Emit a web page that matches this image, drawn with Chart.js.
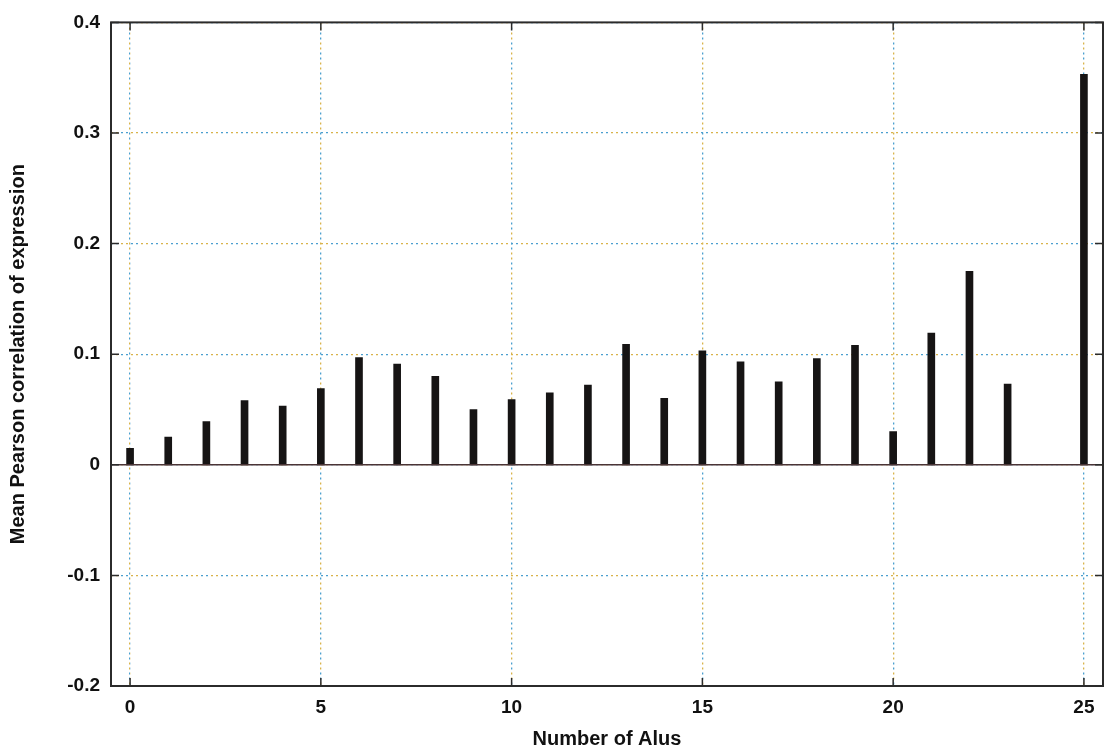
<!DOCTYPE html>
<html lang="en">
<head>
    <meta charset="UTF-8">
    <title>Mean Pearson correlation by number of Alus</title>
    <script src="https://cdn.jsdelivr.net/npm/chart.js"></script>
    <style>
        html, body { margin: 0; padding: 0; background: #fff; }
        #wrap { width: 1109px; height: 753px; position: relative; }
    </style>
</head>
<body>
    <div id="wrap"><canvas id="aluChart"></canvas></div>

    <script>
        // values
        const alus = [0, 1, 2, 3, 4, 5, 6, 7, 8, 9, 10, 11, 12, 13, 14, 15, 16, 17, 18, 19, 20, 21, 22, 23, 25];
        const meanCorrelation = [0.015, 0.025, 0.039, 0.058, 0.053, 0.069, 0.097, 0.091, 0.080, 0.050,
            0.059, 0.065, 0.072, 0.109, 0.060, 0.103, 0.093, 0.075, 0.096, 0.108,
            0.030, 0.119, 0.175, 0.073, 0.353];
        const xTitle = 'Number of Alus';
        const yTitle = 'Mean Pearson correlation of expression';

        const fontFamily = '"Liberation Sans", Arial, sans-serif';

        // dotted grid in alternating blue / gold, like the scanned figure
        function gridPattern() {
            const c = document.createElement('canvas');
            c.width = 20; c.height = 20;
            const g = c.getContext('2d');
            g.fillStyle = '#4b9fcf'; g.fillRect(0, 0, 20, 20);
            g.fillStyle = '#d9b34a'; g.fillRect(0, 0, 10, 10); g.fillRect(10, 10, 10, 10);
            return g.createPattern(c, 'repeat');
        }
        const gridColor = gridPattern();

        const frame = {
            id: 'frame',
            afterDatasetsDraw(chart) {
                const { ctx, chartArea: a, scales } = chart;
                ctx.save();
                // zero line
                const y0 = scales.y.getPixelForValue(0);
                ctx.strokeStyle = '#4a3436';
                ctx.lineWidth = 1.5;
                ctx.beginPath();
                ctx.moveTo(a.left, y0);
                ctx.lineTo(a.right, y0);
                ctx.stroke();
                // box round the plot
                ctx.strokeStyle = '#2b2b2b';
                ctx.lineWidth = 2;
                ctx.strokeRect(a.left, a.top, a.right - a.left, a.bottom - a.top);
                // short inward ticks
                ctx.lineWidth = 1.5;
                scales.x.ticks.forEach(t => {
                    const px = scales.x.getPixelForValue(t.value);
                    ctx.beginPath();
                    ctx.moveTo(px, a.bottom); ctx.lineTo(px, a.bottom - 8);
                    ctx.moveTo(px, a.top); ctx.lineTo(px, a.top + 8);
                    ctx.stroke();
                });
                scales.y.ticks.forEach(t => {
                    const py = scales.y.getPixelForValue(t.value);
                    ctx.beginPath();
                    ctx.moveTo(a.left, py); ctx.lineTo(a.left + 8, py);
                    ctx.moveTo(a.right, py); ctx.lineTo(a.right - 8, py);
                    ctx.stroke();
                });
                ctx.restore();
            }
        };

        new Chart(document.getElementById('aluChart'), {
            type: 'bar',
            data: {
                datasets: [{
                    data: alus.map((a, i) => ({ x: a, y: meanCorrelation[i] })),
                    backgroundColor: '#161414',
                    barThickness: 7
                }]
            },
            options: {
                responsive: true,
                maintainAspectRatio: false,
                animation: false,
                layout: { padding: { left: 0, top: 20, right: 6, bottom: 0 } },
                plugins: { legend: { display: false }, tooltip: { enabled: false } },
                scales: {
                    x: {
                        type: 'linear',
                        min: -0.5,
                        max: 25.5,
                        offset: false,
                        afterFit: s => { s.height = 67; },
                        ticks: {
                            stepSize: 5,
                            includeBounds: false,
                            padding: 10,
                            color: '#111',
                            font: { family: fontFamily, size: 19, weight: 'bold' }
                        },
                        grid: { color: gridColor, lineWidth: 1.3, drawTicks: false, offset: false },
                        border: { display: false, dash: [2, 3] },
                        title: {
                            display: true,
                            text: xTitle,
                            color: '#111',
                            padding: { top: 0, bottom: 2 },
                            font: { family: fontFamily, size: 20, weight: 'bold' }
                        }
                    },
                    y: {
                        min: -0.2,
                        max: 0.4,
                        afterFit: s => { s.width = 111; },
                        ticks: {
                            stepSize: 0.1,
                            padding: 11,
                            color: '#111',
                            font: { family: fontFamily, size: 19, weight: 'bold' },
                            callback: v => Math.abs(v) < 1e-9 ? '0' : (+v.toFixed(1)).toString()
                        },
                        grid: { color: gridColor, lineWidth: 1.3, drawTicks: false },
                        border: { display: false, dash: [2, 3] },
                        title: {
                            display: true,
                            text: yTitle,
                            color: '#111',
                            padding: { top: 6, bottom: 0 },
                            font: { family: fontFamily, size: 20, weight: 'bold' }
                        }
                    }
                }
            },
            plugins: [frame]
        });
    </script>
</body>
</html>
